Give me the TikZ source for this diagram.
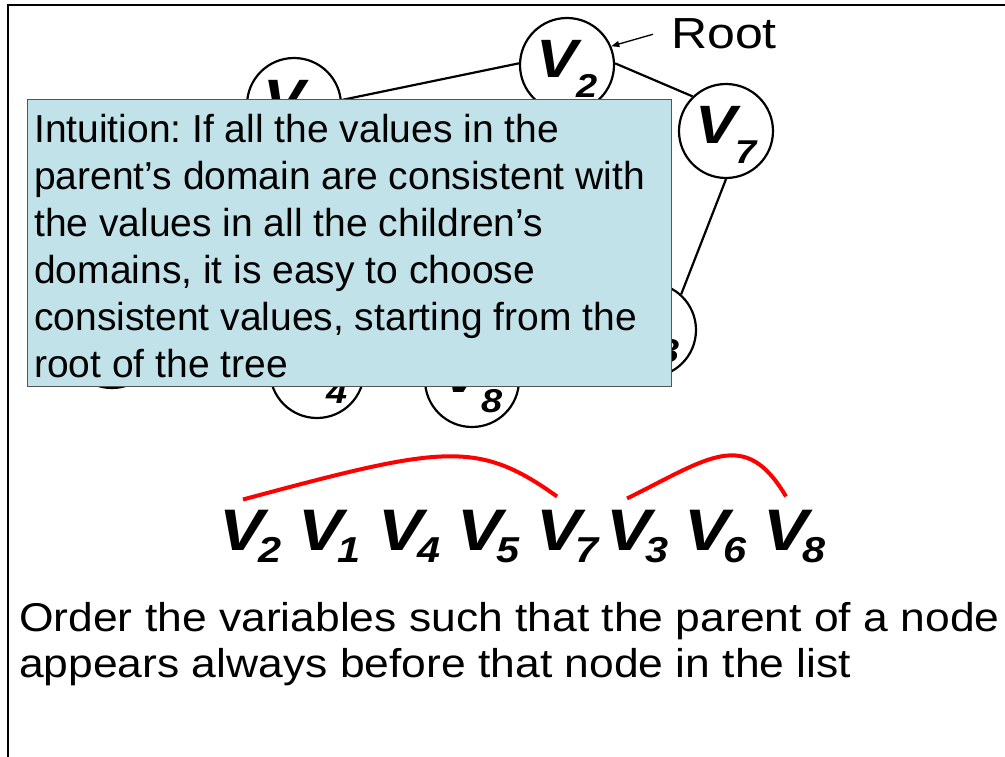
\documentclass[tikz,border=0pt]{standalone}
\usepackage{fontspec}
\setmainfont{Liberation Sans}
\newfontfamily\varfont{Liberation Sans}[FakeStretch=1.15]
\newfontfamily\widefont{Liberation Sans}[FakeStretch=1.105]
\usetikzlibrary{arrows.meta}
\frenchspacing

\definecolor{notefill}{RGB}{192,226,232}
\definecolor{noteline}{RGB}{85,85,85}

% bold italic V with a lowered bold italic index
% #1 letter size, #2 index, #3 index size, #4 lowering, #5 kern before index, #6 strut height
\newcommand\varlbl[6]{\rule{0pt}{#6}{\fontsize{#1}{#1}\varfont\bfseries\itshape V}\kern#5\raisebox{-#4}{\fontsize{#3}{#3}\varfont\bfseries\itshape #2}}
\newcommand\circlbl[1]{\varlbl{54bp}{#1}{33bp}{20bp}{-2bp}{45bp}}
\newcommand\seqlbl[1]{\varlbl{58.6bp}{#1}{36bp}{12bp}{-6bp}{0bp}}

\begin{document}
\begin{tikzpicture}[x=1bp,y=-1bp,
  vnode/.style={circle, draw, line width=2.2bp, minimum size=94bp, inner sep=0pt, fill=white},
  treeedge/.style={line width=2.2bp},
  notebox/.style={draw=noteline, fill=notefill, line width=1.2bp, inner sep=0pt, anchor=north west},
  seqitem/.style={anchor=base west, inner sep=0pt},
  orderarc/.style={red, line width=4bp},
  rootarrow/.style={line width=1.3bp, -{Triangle[length=8bp,width=6bp]}}
]
\useasboundingbox (0,0) rectangle (1005,757);

% slide frame
\draw[line width=2.5bp] (8,757) -- (8,5) -- (1005,5);

% constraint tree
\node[vnode] (v5) at (112,341) {};
\node[vnode] (v2) at (567,65) {\circlbl{2}};
\node[vnode] (v1) at (294,105) {\circlbl{1}};
\node[vnode] (v7) at (726,131) {\circlbl{7}};
\node[vnode] (v3) at (649,330) {\circlbl{3}};
\node[vnode] (v4) at (317,371) {\circlbl{4}};
\node[vnode] (v8) at (472,380) {\circlbl{8}};

\draw[treeedge] (v1.6) -- (v2.178);
\draw[treeedge] (v2.2) -- (v7.134);
\draw[treeedge] (v7.south) -- (v3.48);

% root marker
\node[anchor=base west, inner sep=0pt, font={\fontsize{43.5bp}{50bp}\varfont}] (rootlbl) at (671,49) {Root};
\draw[rootarrow] ([shift={(-18,0)}]rootlbl.west) -- (v2.23);

% intuition note
\node[notebox, minimum width=644bp, minimum height=287bp] (note) at (27,99) {};
\node[anchor=north west, inner sep=0pt, align=left, font={\fontsize{39bp}{47bp}\selectfont}] (notetext) at (34,114.5)
 {Intuition: If all the values in the\\
  parent’s domain are consistent with\\
  the values in all the children’s\\
  domains, it is easy to choose\\
  consistent values, starting from the\\
  root of the tree};

% variable ordering
\node[seqitem] (s2) at (219,550) {\seqlbl{2}};
\node[seqitem] (s1) at (298,550) {\seqlbl{1}};
\node[seqitem] (s4) at (378,550) {\seqlbl{4}};
\node[seqitem] (s5) at (457,550) {\seqlbl{5}};
\node[seqitem] (s7) at (536,550) {\seqlbl{7}};
\node[seqitem] (s3) at (606,550) {\seqlbl{3}};
\node[seqitem] (s6) at (684,550) {\seqlbl{6}};
\node[seqitem] (s8) at (763,550) {\seqlbl{8}};

\draw[orderarc] ([shift={(24,-10)}]s2.north west) .. controls (442,446) and (477,439) .. ([shift={(21,-13)}]s7.north west);
\draw[orderarc] ([shift={(21,-11)}]s3.north west) .. controls (709,458) and (745,427) .. ([shift={(23,-13)}]s8.north west);

% caption
\node[anchor=north west, inner sep=0pt, align=left, font={\fontsize{40.2bp}{46bp}\widefont}] (caption) at (19,602.3)
 {Order the variables such that the parent of a node\\
  appears always before that node in the list};
\end{tikzpicture}
\end{document}
